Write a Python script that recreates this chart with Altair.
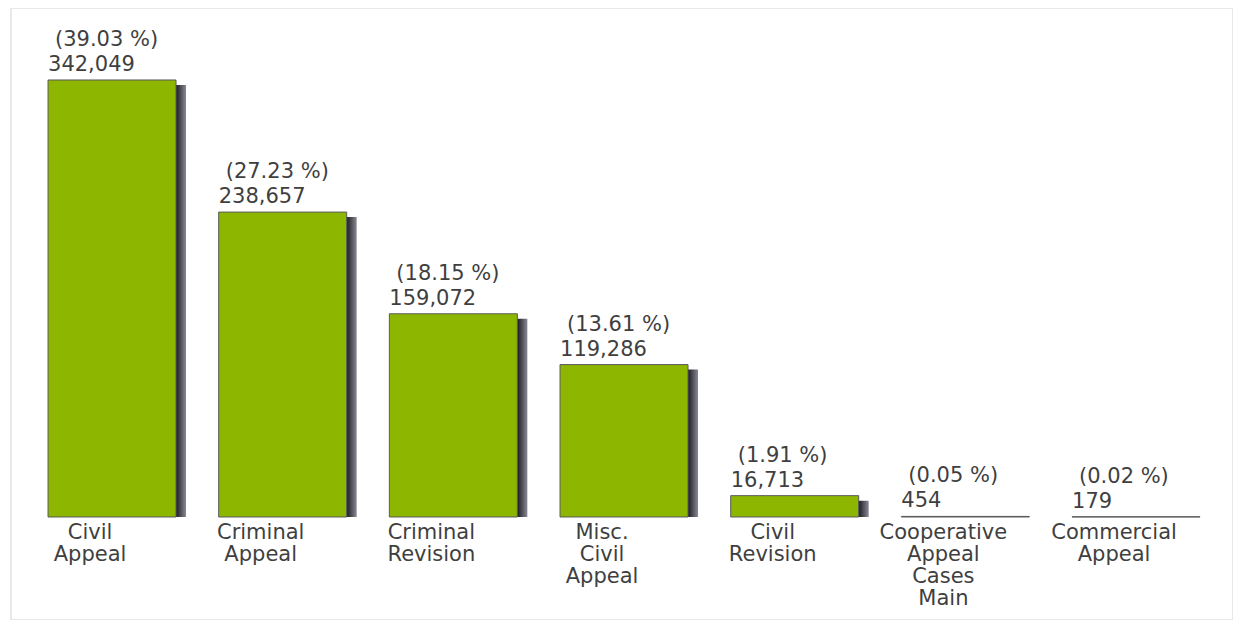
import altair as alt
import pandas as pd

categories = ["Civil Appeal", "Criminal Appeal", "Criminal Revision", "Misc. Civil Appeal",
              "Civil Revision", "Cooperative Appeal Cases Main", "Commercial Appeal"]
label_lines = [["Civil", "Appeal"], ["Criminal", "Appeal"], ["Criminal", "Revision"],
               ["Misc.", "Civil", "Appeal"], ["Civil", "Revision"],
               ["Cooperative", "Appeal", "Cases", "Main"], ["Commercial", "Appeal"]]
values = [342049, 238657, 159072, 119286, 16713, 454, 179]
percents = ["(39.03 %)", "(27.23 %)", "(18.15 %)", "(13.61 %)", "(1.91 %)", "(0.05 %)", "(0.02 %)"]

df = pd.DataFrame({"category": categories, "lines": label_lines, "value": values, "pct": percents})

FONT = "DejaVu Sans"
TXT = "#3f3f3f"

x = alt.X("category:N", sort=categories, axis=None,
          scale=alt.Scale(paddingInner=0.25, paddingOuter=0.205, align=0.529))
yscale = alt.Scale(domain=[-80620, 398400], nice=False, zero=False)
y = alt.Y("value:Q", axis=None, scale=yscale, stack=None)

base = alt.Chart(df)

shadow = base.transform_filter("datum.value > 1000").mark_bar(
    xOffset=10, yOffset=5,
    color=alt.Gradient(gradient="linear", x1=0, x2=1, y1=0, y2=0,
                       stops=[alt.GradientStop(color="#262630", offset=0),
                              alt.GradientStop(color="#262630", offset=0.93),
                              alt.GradientStop(color="#8a8a92", offset=1)])
).encode(x=x, y=y)

bars = base.mark_bar(color="#8db600", stroke="#5a5a5a", strokeWidth=1).encode(x=x, y=y)

val_text = base.mark_text(font=FONT, fontSize=21, color=TXT, align="left",
                          baseline="alphabetic", dx=-64, dy=-9).encode(
    x=x, y=y, text=alt.Text("value:Q", format=","))

pct_text = base.mark_text(font=FONT, fontSize=21, color=TXT, align="left",
                          baseline="alphabetic", dx=-57, dy=-34).encode(
    x=x, y=y, text="pct:N")

cat_text = base.mark_text(font=FONT, fontSize=21, color=TXT, align="center",
                          baseline="top", dx=-22, dy=5, lineHeight=22).encode(
    x=x, y=alt.datum(0, scale=yscale), text="lines:N")

chart = alt.layer(shadow, bars, val_text, pct_text, cat_text).properties(
    width=1222, height=612,
    autosize=alt.AutoSizeParams(type="none"),
    padding={"left": 3, "top": 0, "right": 0, "bottom": 0},
).configure_view(stroke="#e2e2e2", strokeWidth=1.5)

chart.save("out.html", embed_options={"renderer": "svg", "actions": False})
